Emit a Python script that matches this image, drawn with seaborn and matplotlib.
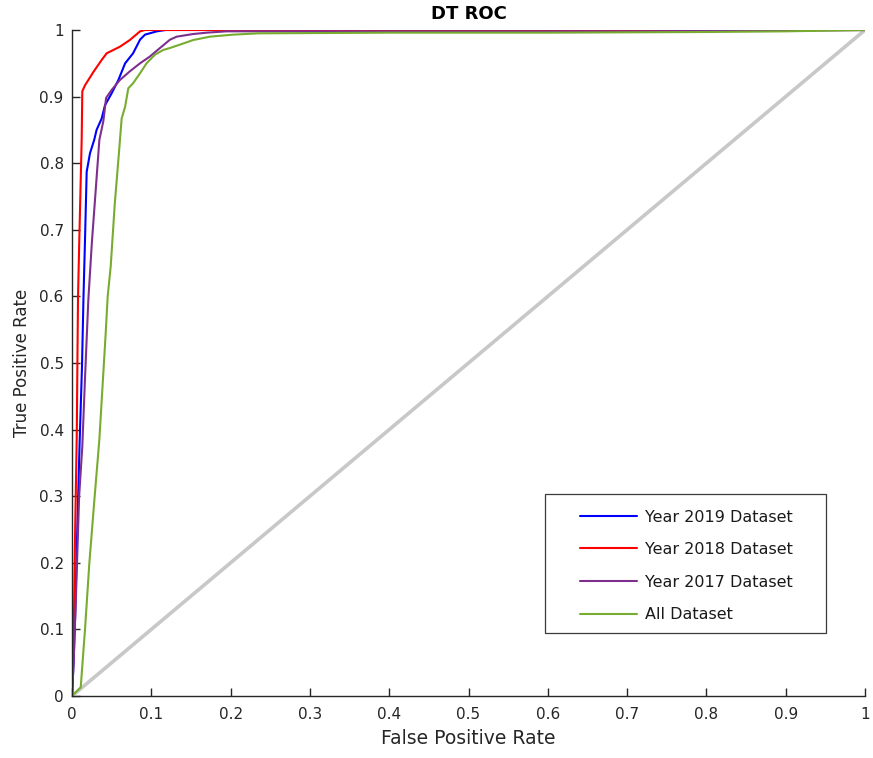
import matplotlib
matplotlib.use("Agg")
import matplotlib.pyplot as plt
from matplotlib.patches import Rectangle
import seaborn as sns
import pandas as pd

sns.set_theme(style="white")
plt.rcParams['font.family'] = ['DejaVu Sans']

# ---- data ----
fpr_2019 = [0, 0.002, 0.004, 0.006, 0.0096, 0.0126, 0.0145, 0.0164, 0.0185, 0.0227, 0.028, 0.031,
            0.0374, 0.0416, 0.050, 0.0585, 0.067, 0.077, 0.0858, 0.092, 0.107, 0.118, 1.0]
tpr_2019 = [0, 0.05, 0.12, 0.22, 0.38, 0.495, 0.6, 0.685, 0.787, 0.815, 0.835, 0.85,
            0.867, 0.887, 0.905, 0.925, 0.95, 0.965, 0.9855, 0.993, 0.998, 1.0, 1.0]

fpr_2018 = [0, 0.002, 0.004, 0.006, 0.0068, 0.0076, 0.0092, 0.0122, 0.013, 0.0164, 0.027,
            0.0374, 0.0437, 0.0605, 0.073, 0.0858, 0.092, 1.0]
tpr_2018 = [0, 0.08, 0.25, 0.39, 0.5, 0.6, 0.685, 0.835, 0.908, 0.917, 0.937,
            0.955, 0.965, 0.975, 0.985, 0.998, 1.0, 1.0]

fpr_2017 = [0, 0.002, 0.005, 0.009, 0.013, 0.0165, 0.0206, 0.025, 0.029, 0.0345, 0.0395, 0.043,
            0.050, 0.0605, 0.073, 0.0858, 0.098, 0.111, 0.1236, 0.132, 0.153, 0.17, 0.195,
            0.3, 0.5, 0.7, 0.9, 1.0]
tpr_2017 = [0, 0.05, 0.15, 0.3, 0.375, 0.48, 0.595, 0.68, 0.745, 0.835, 0.863, 0.898,
            0.91, 0.925, 0.938, 0.95, 0.96, 0.973, 0.9855, 0.99, 0.994, 0.996, 0.998,
            0.998, 0.998, 0.998, 0.999, 1.0]

fpr_all = [0, 0.011, 0.0164, 0.0219, 0.0286, 0.0345, 0.0425, 0.045, 0.0488, 0.054, 0.0597,
           0.0626, 0.067, 0.071, 0.077, 0.0858, 0.094, 0.1047, 0.115, 0.1236, 0.136, 0.153,
           0.174, 0.203, 0.235, 0.4, 0.6, 0.8, 0.9, 1.0]
tpr_all = [0, 0.013, 0.1, 0.2, 0.3, 0.385, 0.545, 0.6, 0.645, 0.74, 0.823,
           0.867, 0.885, 0.9125, 0.92, 0.935, 0.95, 0.963, 0.97, 0.973, 0.978, 0.985,
           0.99, 0.993, 0.995, 0.996, 0.996, 0.997, 0.998, 1.0]

diag_x = [0, 1]
diag_y = [0, 1]

labels = ["Year 2019 Dataset", "Year 2018 Dataset", "Year 2017 Dataset", "All Dataset"]
colors = ["#0000FF", "#FF0000", "#7E2F8E", "#77AC30"]
series = [(fpr_2019, tpr_2019), (fpr_2018, tpr_2018), (fpr_2017, tpr_2017), (fpr_all, tpr_all)]

fig = plt.figure(figsize=(8.73, 7.58), dpi=100)
ax = fig.add_axes([72/873, 62/758, 793/873, 666/758])

sns.lineplot(x=diag_x, y=diag_y, ax=ax, color="#C8C8C8", linewidth=2.6, sort=False,
             estimator=None, legend=False)

for (fx, ty), lab, col in zip(series, labels, colors):
    df = pd.DataFrame({"FPR": fx, "TPR": ty})
    sns.lineplot(data=df, x="FPR", y="TPR", ax=ax, color=col, linewidth=1.5, sort=False,
                 estimator=None, label=lab)

ax.set_xlim(0, 1)
ax.set_ylim(0, 1)
ticks = [0, 0.1, 0.2, 0.3, 0.4, 0.5, 0.6, 0.7, 0.8, 0.9, 1]
ticklabels = ["0", "0.1", "0.2", "0.3", "0.4", "0.5", "0.6", "0.7", "0.8", "0.9", "1"]
ax.set_xticks(ticks)
ax.set_xticklabels(ticklabels)
ax.set_yticks(ticks)
ax.set_yticklabels(ticklabels)
ax.tick_params(direction="in", length=6, width=1, colors="#262626", labelsize=11,
               bottom=True, left=True, top=False, right=False)
ax.tick_params(axis="x", pad=8)
ax.tick_params(axis="y", pad=6)
for s in ["top", "right"]:
    ax.spines[s].set_visible(False)
for s in ["left", "bottom"]:
    ax.spines[s].set_color("#262626")
    ax.spines[s].set_linewidth(1.0)

ax.set_xlabel("False Positive Rate", fontsize=13.5, color="#262626", labelpad=5)
ax.set_ylabel("True Positive Rate", fontsize=12, color="#262626", labelpad=6)
ax.set_title("DT ROC", fontsize=13, fontweight="bold", color="black", pad=8)

# legend frame drawn as a rectangle in axes coordinates
ax.add_patch(Rectangle((0.5965, 0.0946), 0.3544, 0.2087, transform=ax.transAxes,
                       facecolor="white", edgecolor="#3a3a3a", linewidth=0.9, zorder=5))
leg = ax.legend(loc="upper left", bbox_to_anchor=(0.6406, 0.2800), fontsize=11.5,
                frameon=False, handlelength=3.6, handletextpad=0.45, labelspacing=1.1,
                borderpad=0, borderaxespad=0)
leg.set_zorder(6)
for t in leg.get_texts():
    t.set_color("#1a1a1a")
for h in leg.get_lines():
    h.set_linewidth(1.5)

fig.savefig("out.png", dpi=100, facecolor="white")
